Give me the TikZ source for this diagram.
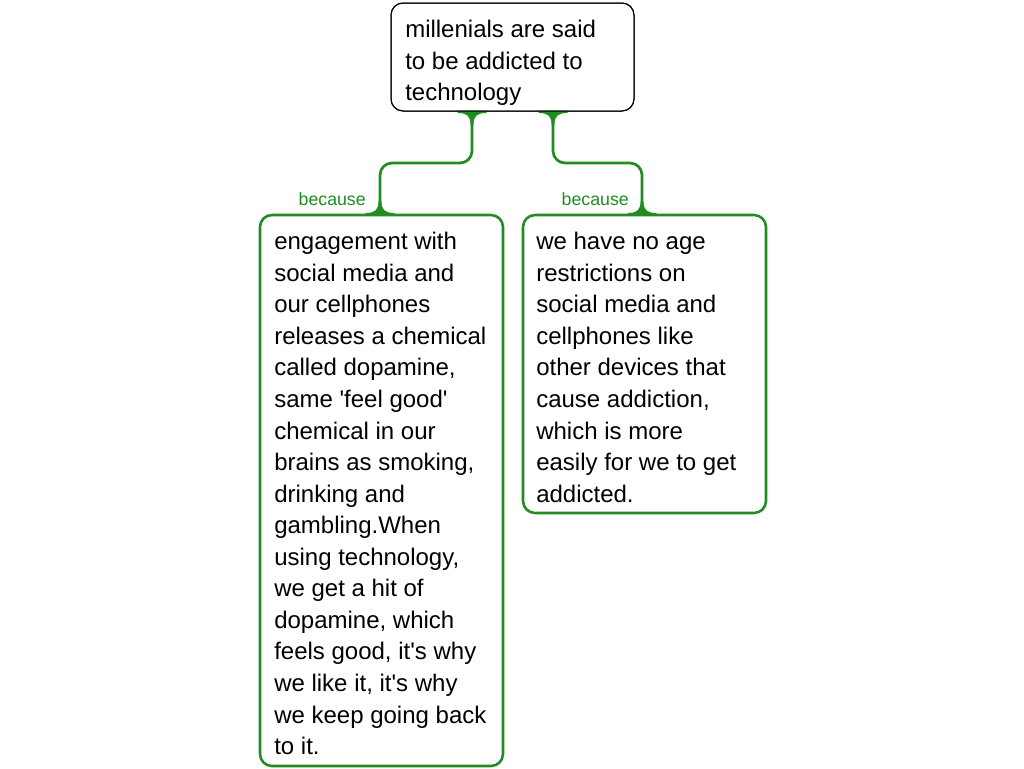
\documentclass[tikz,border=0pt]{standalone}
\usepackage{fontspec}
\setmainfont{Liberation Sans}
\usetikzlibrary{calc}
\definecolor{mgreen}{RGB}{34,139,34}
\tikzset{
  topbox/.style={draw=black, line width=0.75pt, fill=white, rounded corners=9pt, inner sep=0pt, outer sep=0pt},
  childbox/.style={draw=mgreen, line width=1.9pt, fill=white, rounded corners=9pt, inner sep=0pt, outer sep=0pt},
  body/.style={anchor=north west, align=left, inner sep=0pt, font=\fontsize{18}{23.67}\selectfont},
  conn/.style={draw=mgreen, line width=2pt, rounded corners=9pt},
  lbl/.style={anchor=base east, inner sep=0pt, text=mgreen, font=\fontsize{13.3}{16}\selectfont},
  flaredown/.pic={\fill[mgreen] (-14.5,-0.5) -- (-14.5,2) .. controls (-5,2) and (-1.4,5) .. (-1.4,14) -- (1.4,14) .. controls (1.4,5) and (5,2) .. (14.5,2) -- (14.5,-0.5) -- cycle;},
  flareup/.pic={\fill[mgreen] (-14.5,0.5) -- (-14.5,-2) .. controls (-5,-2) and (-1.4,-5) .. (-1.4,-14) -- (1.4,-14) .. controls (1.4,-5) and (5,-2) .. (14.5,-2) -- (14.5,0.5) -- cycle;}
}
\begin{document}
\begin{tikzpicture}[x=0.75pt, y=-0.75pt]
\useasboundingbox (0,0) rectangle (1024,768);
% boxes
\node[topbox, draw=none, fill=none, minimum width=243*0.75pt, minimum height=108*0.75pt, anchor=north west] (top) at (391,3) {};
\node[childbox, draw=none, fill=none, minimum width=243*0.75pt, minimum height=551*0.75pt, anchor=north west] (left) at (260,215) {};
\node[childbox, draw=none, fill=none, minimum width=243*0.75pt, minimum height=298*0.75pt, anchor=north west] (right) at (523,215) {};
\draw[topbox] (top.north west) rectangle (top.south east);
% connectors
\coordinate (t1) at ($(top.south west)+(81,0)$);
\coordinate (t2) at ($(top.south west)+(162,0)$);
\coordinate (c1) at ($(left.north west)+(120,0)$);
\coordinate (c2) at ($(right.north west)+(119,0)$);
\draw[conn] (t1) |- ($(t1)!0.5!(c1)$) -| (c1);
\draw[conn] (t2) |- ($(t2)!0.5!(c2)$) -| (c2);
\pic at (t1) {flaredown};
\pic at (t2) {flaredown};
\pic at (c1) {flareup};
\pic at (c2) {flareup};
% box outlines
\draw[childbox] (left.north west) rectangle (left.south east);
\draw[childbox] (right.north west) rectangle (right.south east);
\draw[topbox, fill=none] (top.north west) rectangle (top.south east);
% texts
\node[body] (toptext) at (405,20) {\rule{0pt}{13pt}millenials are said\\to be addicted to\\technology};
\node[body] (lefttext) at (274,232) {\rule{0pt}{13pt}engagement with\\social media and\\our cellphones\\releases a chemical\\called dopamine,\\same \textquotesingle feel good\textquotesingle\\chemical in our\\brains as smoking,\\drinking and\\gambling.When\\using technology,\\we get a hit of\\dopamine, which\\feels good, it\textquotesingle s why\\we like it, it\textquotesingle s why\\we keep going back\\to it.};
\node[body] (righttext) at (536,232) {\rule{0pt}{13pt}we have no age\\restrictions on\\social media and\\cellphones like\\other devices that\\cause addiction,\\which is more\\easily for we to get\\addicted.};
\node[lbl] (because1) at (366,205) {because};
\node[lbl] (because2) at (629,205) {because};
\end{tikzpicture}
\end{document}
